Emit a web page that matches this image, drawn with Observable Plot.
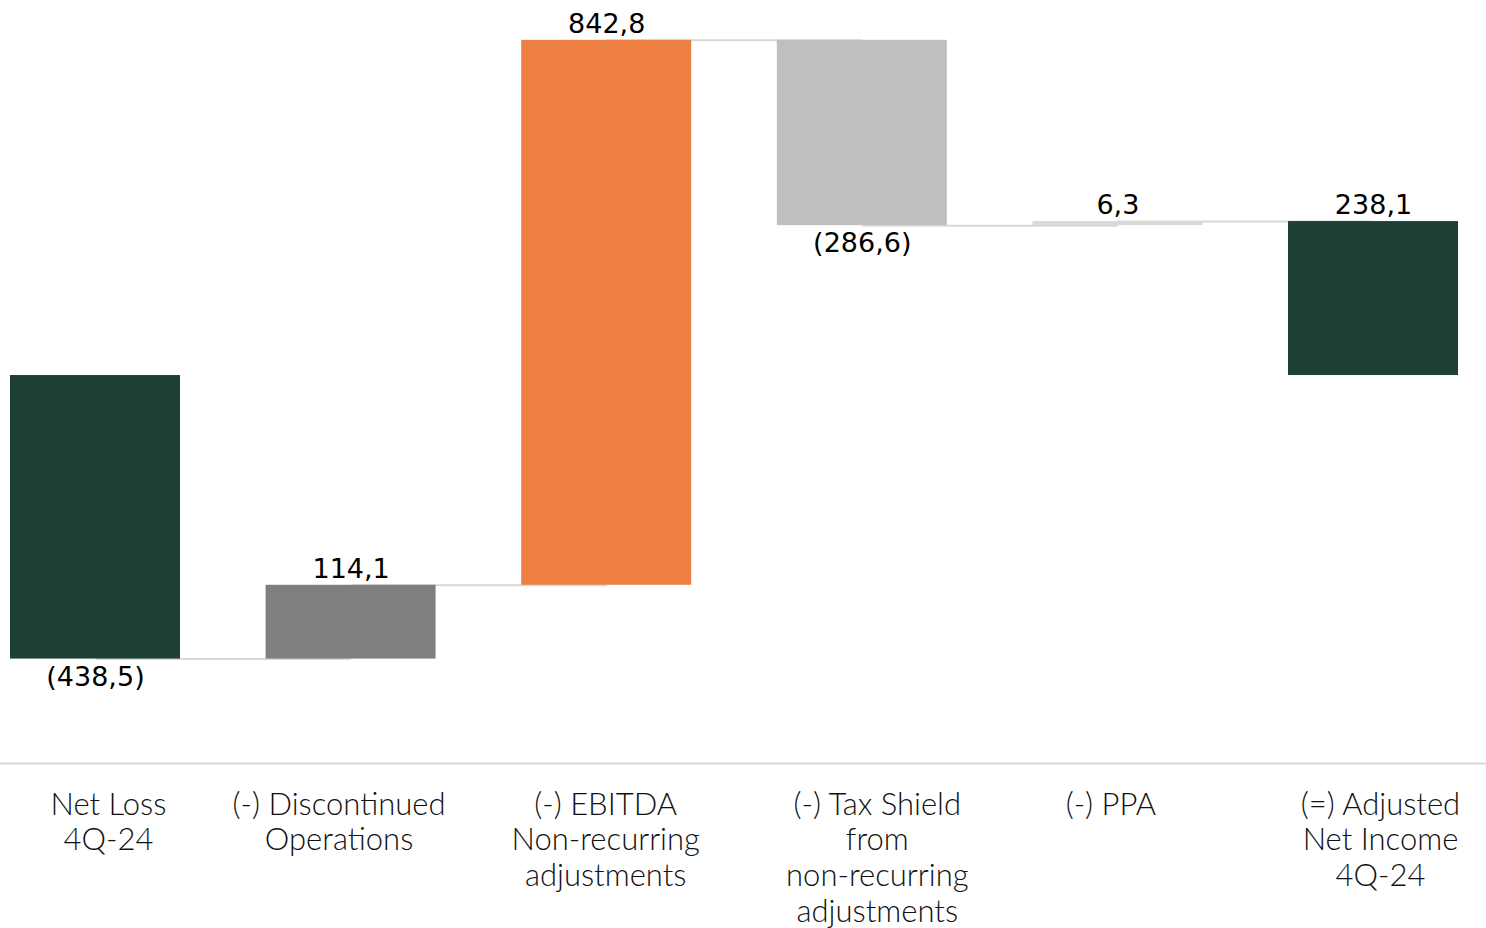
<!DOCTYPE html>
<html>
<head>
<meta charset="utf-8">
<script src="https://cdn.jsdelivr.net/npm/d3@7"></script>
<script src="https://cdn.jsdelivr.net/npm/@observablehq/plot@0.6"></script>
<style>
  html, body { margin: 0; padding: 0; background: #fff; }
  #chart { width: 1486px; height: 928px; overflow: hidden; }
</style>
</head>
<body>
<div id="chart"></div>
<script>
const categories = [
  "Net Loss\n4Q-24",
  "(-) Discontinued\nOperations",
  "(-) EBITDA\nNon-recurring\nadjustments",
  "(-) Tax Shield\nfrom\nnon-recurring\nadjustments",
  "(-) PPA",
  "(=) Adjusted\nNet Income\n4Q-24"
];
const values = [-438.5, 114.1, 842.8, -286.6, 6.3, 238.1];
const valueLabels = ["(438,5)", "114,1", "842,8", "(286,6)", "6,3", "238,1"];
const isTotal = [false, false, false, false, false, true];
const colors = ["#1d3f35", "#7f7f7f", "#ed7f43", "#bfbfbf", "#d9d9d9", "#1d3f35"];

let run = 0;
const rows = categories.map((cat, i) => {
  let start, end;
  if (isTotal[i]) { start = 0; end = values[i]; }
  else { start = run; end = run + values[i]; run = end; }
  return {cat, start, end, value: values[i], label: valueLabels[i], color: colors[i]};
});
const links = rows.slice(0, -1).map((r, i) => ({from: r.cat, to: rows[i + 1].cat, level: r.end}));

// small horizontal nudges of the category text boxes (style only)
const labelNudge = [13, -12, -1, 15, -7, 7];
const labelStyle = {fontSize: 31, lineHeight: 1.15, fontFamily: "Lato", fontWeight: 300, fill: "#111", lineAnchor: "top", frameAnchor: "bottom", dy: 26};

const chart = Plot.plot({
  width: 1486,
  height: 928,
  marginLeft: 0,
  marginRight: 0,
  marginTop: 0,
  marginBottom: 165,
  x: {domain: categories, range: [10, 1458], paddingInner: 0.335, paddingOuter: 0, round: false, axis: null},
  y: {domain: [-600, 580], axis: null},
  style: {background: "#fff"},
  marks: [
    Plot.ruleY([-600], {stroke: "#d9d9d9", strokeWidth: 2}),
    Plot.link(links, {x1: "from", x2: "to", y1: "level", y2: "level", stroke: "#d9d9d9", strokeWidth: 2}),
    Plot.barY(rows, {x: "cat", y1: "start", y2: "end", fill: "color"}),
    Plot.text(rows.filter(d => d.value >= 0), {
      x: "cat", y: d => Math.max(d.start, d.end), text: "label",
      dy: -16, fontSize: 27, fontFamily: "DejaVu Sans", fill: "#000"
    }),
    Plot.text(rows.filter(d => d.value < 0), {
      x: "cat", y: d => Math.min(d.start, d.end), text: "label",
      dy: 18, fontSize: 27, fontFamily: "DejaVu Sans", fill: "#000"
    }),
    ...categories.map((c, i) => Plot.text([c], {x: d => d, text: d => d, dx: labelNudge[i], ...labelStyle}))
  ]
});
document.getElementById("chart").appendChild(chart);
</script>
</body>
</html>
